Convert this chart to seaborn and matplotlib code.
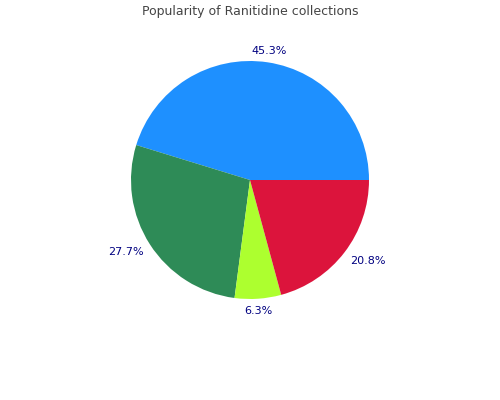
import matplotlib
matplotlib.use("Agg")
import numpy as np
import matplotlib.pyplot as plt
import seaborn as sns

# slice data, counterclockwise from 3 o'clock
shares = [45.3, 27.7, 6.3, 20.8]
labels = ["45.3%", "27.7%", "6.3%", "20.8%"]
colors = ["#1E90FF", "#2E8B57", "#ADFF2F", "#DC143C"]

sns.set_style("white")
plt.rcParams['font.family'] = ['DejaVu Sans']

fig = plt.figure(figsize=(5, 4), dpi=100)
ax = fig.add_axes([131 / 500, 101 / 400, 238 / 500, 238 / 400])

wedges, texts = ax.pie(shares, labels=labels, colors=colors, startangle=0,
                       counterclock=True, labeldistance=1.1,
                       wedgeprops=dict(linewidth=0),
                       textprops=dict(color="#000080", fontsize=8))

# side labels hug the pie, top/bottom ones sit centred
for w, t in zip(wedges, texts):
    ang = np.deg2rad((w.theta1 + w.theta2) / 2)
    c, s = np.cos(ang), np.sin(ang)
    if abs(c) > 0.3:
        t.set_position((1.06 * c, 1.12 * s))
        t.set_ha("left" if c > 0 else "right")
    else:
        t.set_position((1.1 * c, 1.1 * s))
        t.set_ha("center")
    t.set_va("center")

ax.set_xlim(-1, 1)
ax.set_ylim(-1, 1)
ax.set_aspect("equal")

fig.text(0.5, 1 - 12 / 400, "Popularity of Ranitidine collections",
         ha="center", va="center", fontsize=9, color="#444444")

fig.savefig("out.png", dpi=100)
